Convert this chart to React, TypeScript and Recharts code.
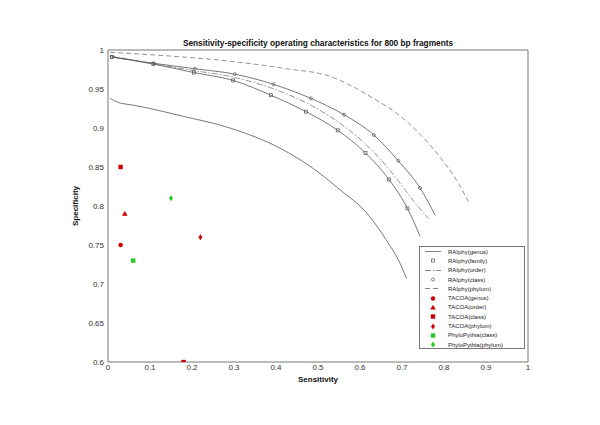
import React from "react";
import { ComposedChart, Line, Scatter, XAxis, YAxis, Legend } from "recharts";

// sensitivity (x) / specificity (y)
const genus = [
  { x: 0.005, y: 0.938 }, { x: 0.029, y: 0.932 }, { x: 0.052, y: 0.93 }, { x: 0.1, y: 0.925 },
  { x: 0.171, y: 0.916 }, { x: 0.29, y: 0.9 }, { x: 0.41, y: 0.874 }, { x: 0.489, y: 0.848 },
  { x: 0.552, y: 0.821 }, { x: 0.616, y: 0.791 }, { x: 0.663, y: 0.756 }, { x: 0.695, y: 0.727 },
  { x: 0.711, y: 0.707 },
];
const family = [
  { x: 0.009, y: 0.991 }, { x: 0.108, y: 0.982 }, { x: 0.205, y: 0.971 }, { x: 0.298, y: 0.961 },
  { x: 0.388, y: 0.942 }, { x: 0.471, y: 0.921 }, { x: 0.547, y: 0.897 }, { x: 0.613, y: 0.868 },
  { x: 0.669, y: 0.834 }, { x: 0.713, y: 0.797 }, { x: 0.743, y: 0.761 },
];
const order = [
  { x: 0.005, y: 0.993 }, { x: 0.1, y: 0.983 }, { x: 0.2, y: 0.974 }, { x: 0.3, y: 0.965 },
  { x: 0.39, y: 0.951 }, { x: 0.48, y: 0.93 }, { x: 0.55, y: 0.907 }, { x: 0.61, y: 0.881 },
  { x: 0.66, y: 0.853 }, { x: 0.7, y: 0.826 }, { x: 0.74, y: 0.798 }, { x: 0.763, y: 0.784 },
];
const klass = [
  { x: 0.009, y: 0.991 }, { x: 0.108, y: 0.983 }, { x: 0.207, y: 0.976 }, { x: 0.302, y: 0.969 },
  { x: 0.394, y: 0.956 }, { x: 0.483, y: 0.938 }, { x: 0.562, y: 0.917 }, { x: 0.633, y: 0.891 },
  { x: 0.691, y: 0.858 }, { x: 0.743, y: 0.823 }, { x: 0.779, y: 0.788 },
];
const phylum = [
  { x: 0.005, y: 0.997 }, { x: 0.1, y: 0.994 }, { x: 0.3, y: 0.985 }, { x: 0.425, y: 0.976 },
  { x: 0.53, y: 0.966 }, { x: 0.59, y: 0.951 }, { x: 0.632, y: 0.938 }, { x: 0.687, y: 0.919 },
  { x: 0.72, y: 0.904 }, { x: 0.79, y: 0.863 }, { x: 0.83, y: 0.833 }, { x: 0.858, y: 0.806 },
];

const tacoaGenus = [{ x: 0.03, y: 0.75 }];
const tacoaOrder = [{ x: 0.04, y: 0.79 }];
const tacoaClass = [{ x: 0.03, y: 0.85 }, { x: 0.18, y: 0.6 }];
const tacoaPhylum = [{ x: 0.22, y: 0.76 }];
const ppClass = [{ x: 0.06, y: 0.73 }];
const ppPhylum = [{ x: 0.15, y: 0.81 }];

const xTicks = [0, 0.1, 0.2, 0.3, 0.4, 0.5, 0.6, 0.7, 0.8, 0.9, 1];
const yTicks = [0.6, 0.65, 0.7, 0.75, 0.8, 0.85, 0.9, 0.95, 1];

const RED = "#cc0000";
const GREEN = "#22cc22";
const AXIS = "#777";
const FONT = "'Liberation Sans', Arial, sans-serif";

const circle = (c: string) => (p: any) => <circle cx={p.cx} cy={p.cy} r={2.2} fill={c} />;
const square = (c: string) => (p: any) => <rect x={p.cx - 2.2} y={p.cy - 2.2} width={4.4} height={4.4} fill={c} />;
const triangle = (c: string) => (p: any) => (
  <polygon points={`${p.cx},${p.cy - 2.8} ${p.cx - 2.8},${p.cy + 2} ${p.cx + 2.8},${p.cy + 2}`} fill={c} />
);
const diamond = (c: string) => (p: any) => (
  <polygon points={`${p.cx},${p.cy - 3} ${p.cx - 2},${p.cy} ${p.cx},${p.cy + 3} ${p.cx + 2},${p.cy}`} fill={c} />
);

// small open markers on the curve, skipping the last point
const openSquareDot = (last: number) => (p: any) =>
  p.index === last ? <g key={p.index} /> : (
    <rect key={p.index} x={p.cx - 1.5} y={p.cy - 1.5} width={3} height={3} fill="none" stroke="#555" strokeWidth={0.7} />
  );
const openCircleDot = (last: number) => (p: any) =>
  p.index === last ? <g key={p.index} /> : (
    <circle key={p.index} cx={p.cx} cy={p.cy} r={1.5} fill="none" stroke="#555" strokeWidth={0.7} />
  );

const legendRows = [
  { label: "RAIphy(genus)", line: "", marker: "" },
  { label: "RAIphy(family)", line: "none", marker: "osq" },
  { label: "RAIphy(order)", line: "6 2 1.5 2", marker: "" },
  { label: "RAIphy(class)", line: "none", marker: "oci" },
  { label: "RAIphy(phylum)", line: "5 3", marker: "" },
  { label: "TACOA(genus)", line: "none", marker: "circle", color: RED },
  { label: "TACOA(order)", line: "none", marker: "triangle", color: RED },
  { label: "TACOA(class)", line: "none", marker: "square", color: RED },
  { label: "TACOA(phylum)", line: "none", marker: "diamond", color: RED },
  { label: "PhyloPythia(class)", line: "none", marker: "square", color: GREEN },
  { label: "PhyloPythia(phylum)", line: "none", marker: "diamond", color: GREEN },
];

const LegendBox = () => (
  <div
    style={{
      width: 106, height: 103, boxSizing: "border-box", border: `1px solid ${AXIS}`,
      background: "#fff", fontFamily: FONT, fontSize: 6, color: "#222",
    }}
  >
    {legendRows.map((r) => {
      const p = { cx: 13, cy: 4.5 };
      let m: React.ReactNode = null;
      if (r.marker === "osq") m = <rect x={11.5} y={3} width={3} height={3} fill="none" stroke="#555" strokeWidth={0.7} />;
      if (r.marker === "oci") m = <circle cx={13} cy={4.5} r={1.5} fill="none" stroke="#555" strokeWidth={0.7} />;
      if (r.marker === "circle") m = circle(r.color!)(p);
      if (r.marker === "square") m = square(r.color!)(p);
      if (r.marker === "triangle") m = triangle(r.color!)(p);
      if (r.marker === "diamond") m = diamond(r.color!)(p);
      return (
        <div key={r.label} style={{ height: 9.3, display: "flex", alignItems: "center" }}>
          <svg width={28} height={9} style={{ display: "block" }}>
            {r.line !== "none" && (
              <line x1={5} x2={21} y1={4.5} y2={4.5} stroke="#666" strokeWidth={0.8} strokeDasharray={r.line || undefined} />
            )}
            {m}
          </svg>
          <span style={{ whiteSpace: "nowrap", color: "#222" }}>{r.label}</span>
        </div>
      );
    })}
  </div>
);

export default function App() {
  return (
    <div style={{ position: "absolute", left: 0, top: 0, background: "#fff" }}>
      <ComposedChart width={600} height={425} margin={{ top: 50, right: 72, bottom: 38, left: 68 }}>
        <XAxis
          dataKey="x"
          type="number"
          domain={[0, 1]}
          ticks={xTicks}
          allowDataOverflow
          tickLine={false}
          tickSize={0}
          tickMargin={2}
          height={25}
          axisLine={{ stroke: AXIS }}
          tick={{ fontSize: 8, fill: "#333", fontFamily: FONT }}
          label={{ value: "Sensitivity", position: "insideBottom", offset: 5, fontSize: 8, fontWeight: "bold", fill: "#111", fontFamily: FONT }}
        />
        <XAxis xAxisId="bt" orientation="bottom" mirror type="number" domain={[0, 1]} ticks={xTicks} allowDataOverflow
          tick={false} tickSize={4} tickLine={{ stroke: AXIS }} axisLine={false} height={1} />
        <XAxis xAxisId="top" orientation="top" mirror type="number" domain={[0, 1]} ticks={xTicks} allowDataOverflow
          tick={false} tickSize={4} tickLine={{ stroke: AXIS }} axisLine={{ stroke: AXIS }} height={1}
          label={{ value: "Sensitivity-specificity operating characteristics for 800 bp fragments", position: "top", offset: 4, fontSize: 8.3, fontWeight: "bold", fill: "#111", fontFamily: FONT }}
        />
        <YAxis
          dataKey="y"
          type="number"
          domain={[0.6, 1]}
          ticks={yTicks}
          allowDataOverflow
          tickLine={false}
          tickSize={0}
          tickMargin={4}
          width={40}
          axisLine={{ stroke: AXIS }}
          tick={{ fontSize: 8, fill: "#333", fontFamily: FONT }}
          label={{ value: "Specificity", angle: -90, position: "insideLeft", offset: 7, fontSize: 8, fontWeight: "bold", fill: "#111", fontFamily: FONT, style: { textAnchor: "middle" } }}
        />
        <YAxis yAxisId="lt" orientation="left" mirror type="number" domain={[0.6, 1]} ticks={yTicks} allowDataOverflow
          tick={false} tickSize={4} tickLine={{ stroke: AXIS }} axisLine={false} width={1} />
        <YAxis yAxisId="rt" orientation="right" mirror type="number" domain={[0.6, 1]} ticks={yTicks} allowDataOverflow
          tick={false} tickSize={4} tickLine={{ stroke: AXIS }} axisLine={{ stroke: AXIS }} width={1} />

        <Line data={genus} dataKey="y" type="monotone" stroke="#555" strokeWidth={0.8} dot={false} activeDot={false} isAnimationActive={false} />
        <Line data={family} dataKey="y" type="monotone" stroke="#555" strokeWidth={0.8} dot={openSquareDot(family.length - 1)} activeDot={false} isAnimationActive={false} />
        <Line data={order} dataKey="y" type="monotone" stroke="#777" strokeWidth={0.8} strokeDasharray="6 2 1.5 2" dot={false} activeDot={false} isAnimationActive={false} />
        <Line data={klass} dataKey="y" type="monotone" stroke="#555" strokeWidth={0.8} dot={openCircleDot(klass.length - 1)} activeDot={false} isAnimationActive={false} />
        <Line data={phylum} dataKey="y" type="monotone" stroke="#777" strokeWidth={0.8} strokeDasharray="5 3" dot={false} activeDot={false} isAnimationActive={false} />

        <Scatter data={tacoaGenus} dataKey="y" shape={circle(RED)} isAnimationActive={false} />
        <Scatter data={tacoaOrder} dataKey="y" shape={triangle(RED)} isAnimationActive={false} />
        <Scatter data={tacoaClass} dataKey="y" shape={square(RED)} isAnimationActive={false} />
        <Scatter data={tacoaPhylum} dataKey="y" shape={diamond(RED)} isAnimationActive={false} />
        <Scatter data={ppClass} dataKey="y" shape={square(GREEN)} isAnimationActive={false} />
        <Scatter data={ppPhylum} dataKey="y" shape={diamond(GREEN)} isAnimationActive={false} />

        <Legend
          layout="vertical"
          align="center"
          verticalAlign="middle"
          content={() => <LegendBox />}
          wrapperStyle={{ left: 419, top: 246, width: 106, height: 103 }}
        />
      </ComposedChart>
    </div>
  );
}
